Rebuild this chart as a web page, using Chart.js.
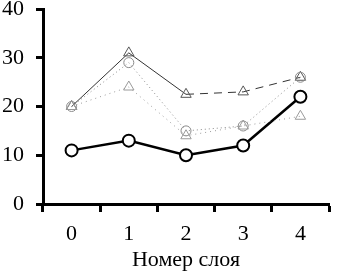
<!DOCTYPE html>
<html>
<head>
<meta charset="utf-8">
<script src="https://cdn.jsdelivr.net/npm/chart.js@4"></script>
<style>
  html, body { margin: 0; padding: 0; background: #fff; overflow: hidden; }
  #wrap { position: absolute; left: -10px; top: -14px; width: 347px; height: 293px; }
</style>
</head>
<body>
<div id="wrap"><canvas id="layerChart"></canvas></div>
<script>
// layer numbers (x axis)
var layers = ["0", "1", "2", "3", "4"];

// series
var mainSeries = [11, 13, 10, 12, 22];
var triSeries = [20, 31, 22.5, 23, 26];
var dotCircleSeries = [20, 29, 15, 16, 26];
var dotTriSeries = [20, 24, 14, 16, 18];

// y axis
var yMin = 0;
var yMax = 40;
var yStep = 10;

var serif = "'Liberation Serif', 'Times New Roman', serif";

new Chart("layerChart", {
    type: "line",
    data: {
      labels: layers,
      datasets: [{
        label: "dotted triangles",
        data: dotTriSeries,
        borderColor: "#9a9a9a",
        borderWidth: 1,
        borderDash: [1, 4],
        pointStyle: "triangle",
        pointRadius: 6,
        pointBorderColor: "#9a9a9a",
        pointBorderWidth: 1,
        pointBackgroundColor: "rgba(255,255,255,0)",
        lineTension: 0
      }, {
        label: "dotted circles",
        data: dotCircleSeries,
        borderColor: "#8a8a8a",
        borderWidth: 1,
        borderDash: [1, 3],
        pointStyle: "circle",
        pointRadius: 5,
        pointBorderColor: "#8a8a8a",
        pointBorderWidth: 1,
        pointBackgroundColor: "rgba(255,255,255,0)",
        lineTension: 0
      }, {
        label: "triangles",
        data: triSeries,
        borderColor: "#333",
        borderWidth: 1,
        segment: {
          borderDash: ctx => ctx.p0DataIndex >= 2 ? [8, 6] : undefined
        },
        pointStyle: "triangle",
        pointRadius: 6,
        pointBorderColor: "#555",
        pointBorderWidth: 1,
        pointBackgroundColor: "rgba(255,255,255,0)",
        lineTension: 0
      }, {
        label: "main",
        data: mainSeries,
        borderColor: "#000",
        borderWidth: 2.5,
        pointStyle: "circle",
        pointRadius: 6,
        pointBorderColor: "#000",
        pointBorderWidth: 2,
        pointBackgroundColor: "#fff",
        lineTension: 0
      }]
    },
    options: {
        responsive: true,
        maintainAspectRatio: false,
        animation: false,
        layout: { padding: { left: 0, right: 2, top: 0, bottom: 0 } },
        plugins: {
            legend: { display: false },
            tooltip: { enabled: false }
        },
        scales: {
            x: {
                offset: true,
                grid: {
                    offset: true,
                    drawOnChartArea: false,
                    drawTicks: true,
                    tickLength: 8,
                    tickWidth: 3,
                    tickColor: "#000"
                },
                border: { display: true, color: "#000", width: 3 },
                ticks: {
                    color: "#000",
                    padding: 11,
                    maxRotation: 0,
                    font: { family: serif, size: 22, lineHeight: 1 }
                },
                title: {
                    display: true,
                    text: "Номер слоя",
                    color: "#000",
                    padding: { top: -7, bottom: 8 },
                    font: { family: serif, size: 22, lineHeight: 1 }
                }
            },
            y: {
                min: yMin,
                max: yMax,
                grid: {
                    drawOnChartArea: false,
                    drawTicks: true,
                    tickLength: 7,
                    tickWidth: 3,
                    tickColor: "#000"
                },
                border: { display: true, color: "#000", width: 3 },
                ticks: {
                    stepSize: yStep,
                    color: "#000",
                    padding: 12,
                    font: { family: serif, size: 22, lineHeight: 1 }
                }
            }
        }
    }
});
</script>
</body>
</html>
